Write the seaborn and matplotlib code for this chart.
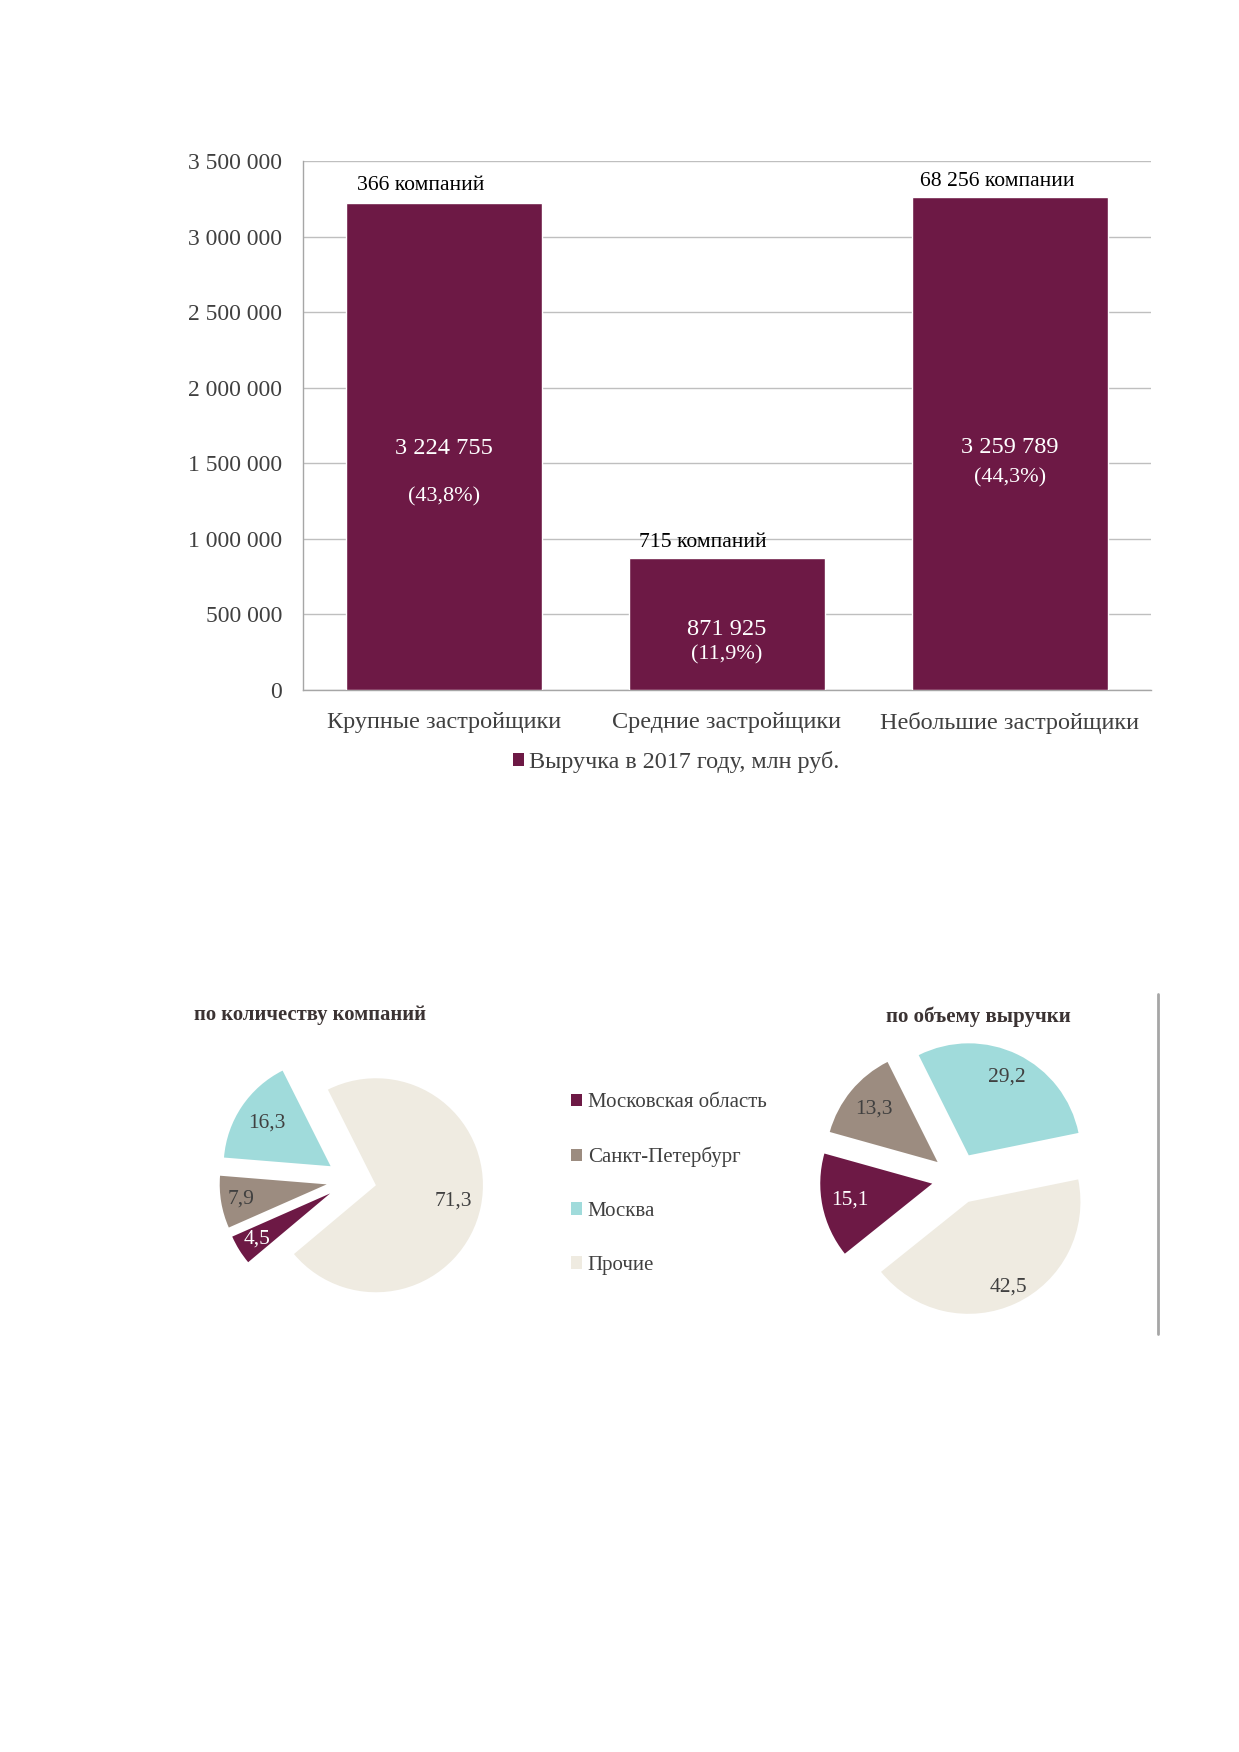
import matplotlib
matplotlib.use('Agg')
import matplotlib.pyplot as plt
import matplotlib.ticker as mticker
from matplotlib.patches import Patch
import numpy as np
import pandas as pd
import seaborn as sns

# Data
categories = ['Крупные застройщики', 'Средние застройщики', 'Небольшие застройщики']
revenue = [3224755, 871925, 3259789]
revenue_share = ['(43,8%)', '(11,9%)', '(44,3%)']
company_counts = ['366 компаний', '715 компаний', '68 256 компании']
legend_bar = 'Выручка в 2017 году, млн руб.'

regions = ['Московская область', 'Санкт-Петербург', 'Москва', 'Прочие']
share_by_count = [4.5, 7.9, 16.3, 71.3]
share_by_revenue = [15.1, 13.3, 29.2, 42.5]

# Text placement (not data)
count_offsets = [(-24, 17), (-24, 16), (-12, 16)]      # pixels from bar top
inner_value_y = [1600000, 397000, 1605000]
inner_share_y = [1280000, 232000, 1402000]

BAR_COLOR = '#6D1945'
PIE_COLORS = ['#6D1945', '#9C8C80', '#A0DBDB', '#EFEBE1']
TEXT = '#404040'

sns.set_style('white')
plt.rcParams['font.family'] = ['Liberation Serif', 'DejaVu Serif']

W, H = 1239, 1752
fig = plt.figure(figsize=(W / 100, H / 100), dpi=100)


def px_axes(left, top, width, height):
    return fig.add_axes([left / W, 1 - (top + height) / H, width / W, height / H])


# ---------- Bar chart ----------
ax = px_axes(303, 161, 848, 529)
df = pd.DataFrame({'category': categories, 'revenue': revenue})
sns.barplot(data=df, x='category', y='revenue', color=BAR_COLOR, saturation=1,
            width=0.694, ax=ax, zorder=3)

ax.set_ylim(0, 3500000)
ax.set_xlim(-0.5, 2.5)
ax.yaxis.set_major_locator(mticker.MultipleLocator(500000))
ax.yaxis.set_major_formatter(mticker.FuncFormatter(lambda v, p: f'{int(v):,}'.replace(',', ' ')))
ax.grid(axis='y', color='#BFBFBF', linewidth=1, zorder=0)
ax.grid(axis='x', visible=False)
ax.set_axisbelow(True)
for s in ['top', 'right']:
    ax.spines[s].set_visible(False)
for s in ['left', 'bottom']:
    ax.spines[s].set_color('#A6A6A6')
    ax.spines[s].set_linewidth(1)
ax.set_xlabel('')
ax.set_ylabel('')
ax.tick_params(axis='y', length=5, width=1, color='#A6A6A6', pad=10, labelsize=17, labelcolor=TEXT)
ax.tick_params(axis='x', which='major', length=0, pad=15.5, labelsize=17.5, labelcolor=TEXT)
ax.set_xticks([-0.5, 0.5, 1.5, 2.5], minor=True)
ax.tick_params(axis='x', which='minor', length=7, width=1, color='#A6A6A6')

for i, v in enumerate(revenue):
    dx, dy = count_offsets[i]
    ax.annotate(company_counts[i], xy=(i, v), xytext=(dx, dy), textcoords='offset pixels',
                ha='center', va='center', fontsize=15.6, color='black')
    ax.text(i, inner_value_y[i], f'{v:,}'.replace(',', ' '), ha='center', va='center',
            fontsize=17.6, color='white', zorder=5)
    ax.text(i, inner_share_y[i], revenue_share[i], ha='center', va='center',
            fontsize=16, color='white', zorder=5)

fig.legend(handles=[Patch(facecolor=BAR_COLOR, edgecolor='none', label=legend_bar)],
           loc='center', bbox_to_anchor=(676 / W, 1 - 762 / H), frameon=False,
           fontsize=17.4, handlelength=0.45, handleheight=0.45, handletextpad=0.2,
           borderpad=0, borderaxespad=0, labelcolor=TEXT)


# ---------- Pie charts ----------
def draw_pie(cx, cy, r_px, values, startangle, explode, dists):
    lim = 1.6
    size = 2 * lim * r_px
    pax = px_axes(cx - size / 2, cy - size / 2, size, size)
    wedges, _ = pax.pie(values, colors=PIE_COLORS, startangle=startangle, counterclock=False,
                        explode=[explode] * len(values), radius=1,
                        wedgeprops={'linewidth': 0})
    pax.set_xlim(-lim, lim)
    pax.set_ylim(-lim, lim)
    pax.set_aspect('equal')
    pax.axis('off')
    for k, w in enumerate(wedges):
        a = np.deg2rad((w.theta1 + w.theta2) / 2)
        x0, y0 = w.center
        lab = f'{values[k]:.1f}'.replace('.', ',')
        pax.text(x0 + dists[k] * np.cos(a), y0 + dists[k] * np.sin(a), lab,
                 ha='center', va='center', fontsize=15.5,
                 color='white' if k == 0 else TEXT)
    return pax


draw_pie(351.4, 1180.2, 107, share_by_count, 220, 0.234, [0.80, 0.81, 0.72, 0.74])
draw_pie(957.5, 1178.5, 112, share_by_revenue, 218.7, 0.23, [0.75, 0.74, 0.78, 0.84])

fig.text(310 / W, 1 - 1015 / H, 'по количеству компаний', ha='center', va='center',
         fontsize=14.9, fontweight='bold', color='#3B3333')
fig.text(978 / W, 1 - 1017 / H, 'по объему выручки', ha='center', va='center',
         fontsize=15, fontweight='bold', color='#3B3333')

handles = [Patch(facecolor=c, edgecolor='none', label=l) for c, l in zip(PIE_COLORS, regions)]
fig.legend(handles=handles, loc='center left', bbox_to_anchor=(571 / W, 1 - 1184 / H),
           frameon=False, fontsize=15, handlelength=0.55, handleheight=0.55,
           handletextpad=0.25, labelspacing=1.66, borderpad=0, borderaxespad=0,
           labelcolor=TEXT)

# vertical separator line
fig.add_artist(plt.Line2D([1157.7 / W, 1157.7 / W], [1 - 994 / H, 1 - 1334 / H],
                          color='#A6A6A6', linewidth=2))

fig.savefig('out.png', dpi=100)
